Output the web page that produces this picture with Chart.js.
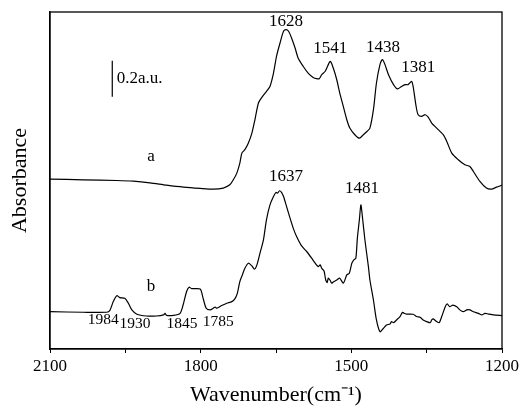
<!DOCTYPE html>
<html>
<head>
<meta charset="utf-8">
<script src="https://cdn.jsdelivr.net/npm/chart.js@4/dist/chart.umd.min.js"></script>
<style>
html,body{margin:0;padding:0;background:#fff;}
canvas{display:block;}
</style>
</head>
<body>
<canvas id="c" width="522" height="411"></canvas>
<script>
// Curve a: wavenumber (cm-1) and absorbance (a.u.)
const wnA = [2100,2034,1967,1934,1901,1868,1834,1801,1775,1755,1742,1735,1728,1722,1718,1712,1705,1698,1692,1685,1679,1669,1662,1655,1649,1642,1635,1630,1625,1619,1612,1606,1596,1586,1576,1569,1564,1559,1552,1542,1536,1529,1523,1516,1509,1503,1493,1484,1476,1469,1463,1456,1450,1443,1438,1433,1426,1416,1408,1400,1393,1387,1380,1377,1371,1367,1360,1353,1347,1340,1330,1317,1310,1300,1287,1274,1264,1257,1244,1231,1221,1211,1200];
const absA = [0.943,0.939,0.935,0.931,0.922,0.909,0.898,0.891,0.887,0.893,0.911,0.939,0.976,1.031,1.087,1.106,1.143,1.198,1.272,1.365,1.393,1.430,1.457,1.531,1.624,1.698,1.763,1.772,1.763,1.726,1.670,1.615,1.569,1.531,1.507,1.500,1.500,1.522,1.541,1.596,1.559,1.494,1.420,1.346,1.272,1.226,1.189,1.170,1.189,1.207,1.226,1.328,1.476,1.578,1.606,1.578,1.522,1.467,1.443,1.457,1.467,1.467,1.485,1.457,1.346,1.300,1.291,1.300,1.287,1.254,1.226,1.189,1.152,1.087,1.050,1.022,1.013,0.985,0.930,0.893,0.887,0.898,0.909];
// Curve b
const wnB = [2100,2034,1987,1981,1974,1967,1961,1951,1944,1937,1927,1908,1888,1874,1871,1868,1854,1841,1835,1828,1823,1818,1801,1796,1789,1781,1775,1771,1768,1758,1748,1738,1732,1727,1722,1717,1712,1705,1698,1693,1688,1682,1675,1669,1662,1655,1650,1647,1643,1639,1635,1629,1622,1615,1609,1599,1589,1579,1572,1566,1562,1559,1556,1554,1551,1548,1546,1542,1539,1536,1529,1523,1516,1509,1504,1499,1495,1491,1488,1484,1481,1478,1473,1466,1463,1456,1450,1443,1436,1430,1423,1420,1416,1410,1403,1398,1395,1390,1377,1370,1363,1357,1350,1343,1340,1337,1330,1325,1320,1313,1309,1304,1298,1290,1284,1277,1270,1264,1257,1247,1240,1234,1227,1217,1200];
const absB = [0.207,0.204,0.204,0.213,0.263,0.296,0.285,0.281,0.254,0.217,0.193,0.183,0.183,0.189,0.198,0.187,0.187,0.198,0.244,0.319,0.343,0.335,0.333,0.291,0.226,0.217,0.226,0.233,0.226,0.241,0.254,0.263,0.278,0.309,0.374,0.411,0.448,0.476,0.461,0.443,0.467,0.531,0.606,0.717,0.800,0.846,0.869,0.865,0.878,0.869,0.846,0.791,0.726,0.665,0.624,0.572,0.541,0.504,0.476,0.457,0.467,0.448,0.439,0.430,0.383,0.369,0.393,0.380,0.365,0.372,0.383,0.393,0.365,0.411,0.420,0.476,0.494,0.504,0.615,0.717,0.800,0.735,0.606,0.457,0.383,0.272,0.161,0.096,0.115,0.133,0.139,0.152,0.146,0.161,0.180,0.204,0.198,0.194,0.193,0.180,0.176,0.161,0.152,0.146,0.161,0.167,0.152,0.146,0.180,0.235,0.250,0.235,0.244,0.235,0.217,0.207,0.217,0.217,0.207,0.198,0.189,0.198,0.194,0.189,0.185];
// Annotation labels: text, wavenumber, absorbance, size
const labelTexts = ['1628','1541','1438','1381','1637','1481','a','b','1984','1930','1845','1785'];
const labelWn    = [1630,1542,1437,1367,1630,1479,1899,1899,1994,1931,1837,1765];
const labelAbs   = [1.817,1.667,1.672,1.561,0.956,0.889,1.067,0.344,0.161,0.139,0.139,0.150];
const labelSize  = [17,17,17,17,17,17,17,17,15.5,15.5,15.5,15.5];
// Scale bar (0.2 a.u.)
const barWn = 1976, barFrom = 1.4, barTo = 1.6, barText = '0.2a.u.';
const xTicks = [2100, 1800, 1500, 1200];

const SERIF = '"Liberation Serif", "Times New Roman", serif';

const annot = {
  id: 'annot',
  afterDatasetsDraw(chart) {
    const {ctx, chartArea: ca, scales: {x, y}} = chart;
    ctx.save();
    ctx.strokeStyle = '#000';
    ctx.lineWidth = 1.3;
    ctx.strokeRect(ca.left, ca.top, ca.right - ca.left, ca.bottom - ca.top);
    ctx.fillStyle = '#000';
    ctx.textAlign = 'center';
    ctx.textBaseline = 'middle';
    labelTexts.forEach((t, i) => {
      ctx.font = labelSize[i] + 'px ' + SERIF;
      ctx.fillText(t, x.getPixelForValue(labelWn[i]), y.getPixelForValue(labelAbs[i]));
    });
    const bx = x.getPixelForValue(barWn);
    ctx.lineWidth = 1.2;
    ctx.beginPath();
    ctx.moveTo(bx, y.getPixelForValue(barFrom));
    ctx.lineTo(bx, y.getPixelForValue(barTo));
    ctx.stroke();
    ctx.textAlign = 'left';
    ctx.font = '17px ' + SERIF;
    ctx.fillText(barText, bx + 4.5, y.getPixelForValue((barFrom + barTo) / 2));
    ctx.restore();
  }
};

new Chart(document.getElementById('c'), {
  type: 'line',
  data: {
    datasets: [
      { label: 'a', data: wnA.map((w, i) => ({x: w, y: absA[i]})), borderColor: '#000', borderWidth: 1.2, pointRadius: 0, tension: 0.25 },
      { label: 'b', data: wnB.map((w, i) => ({x: w, y: absB[i]})), borderColor: '#000', borderWidth: 1.2, pointRadius: 0, tension: 0.25 }
    ]
  },
  options: {
    responsive: false,
    animation: false,
    devicePixelRatio: 1,
    layout: { padding: { top: 12, right: 20, left: 0, bottom: 0 } },
    plugins: { legend: { display: false }, tooltip: { enabled: false } },
    scales: {
      x: {
        type: 'linear', reverse: true, min: 1200, max: 2100,
        afterFit(s) { s.height = 62; },
        afterBuildTicks(s) { s.ticks = [2100,1950,1800,1650,1500,1350,1200].map(v => ({value: v})); },
        ticks: {
          autoSkip: false, maxRotation: 0, padding: 3,
          color: '#000', font: { family: SERIF, size: 17 },
          callback: v => xTicks.includes(v) ? String(v) : ''
        },
        grid: { drawOnChartArea: false, drawTicks: true, tickLength: 4, color: '#000', lineWidth: 1 },
        border: { display: true, color: '#000', width: 1.3 },
        title: { display: true, text: 'Wavenumber(cm⁻¹)', color: '#000', font: { family: SERIF, size: 22 }, padding: { top: 0, bottom: 3 } }
      },
      y: {
        type: 'linear', min: 0, max: 1.87,
        afterFit(s) { s.width = 50; },
        ticks: { display: false },
        grid: { display: false },
        border: { display: true, color: '#000', width: 1.3 },
        title: { display: true, text: 'Absorbance', color: '#000', font: { family: SERIF, size: 22 }, padding: { top: 7, bottom: 0 } }
      }
    }
  },
  plugins: [annot]
});
</script>
</body>
</html>
